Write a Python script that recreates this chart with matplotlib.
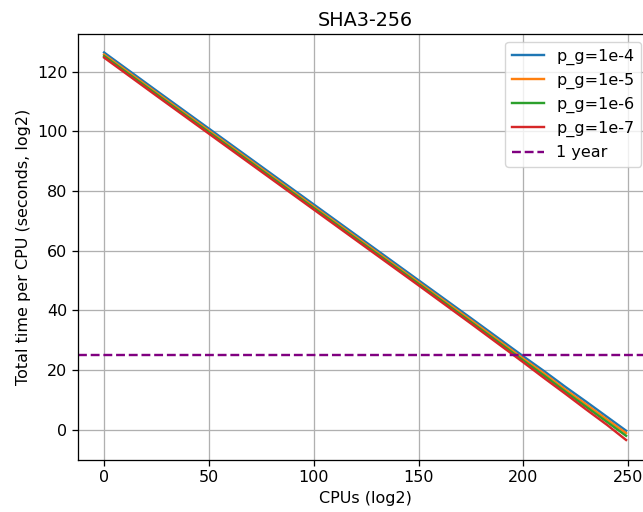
import matplotlib
matplotlib.use("Agg")
import matplotlib.pyplot as plt

# log2 CPU count vs log2 time per CPU for each p_g
cpus = [0, 25, 50, 75, 100, 125, 150, 175, 200, 210, 220, 230, 240, 249]
t_1e4 = [126.4, 113.6, 100.9, 88.2, 75.5, 62.8, 50.1, 37.4, 24.6, 19.6, 14.4, 9.4, 4.3, -0.3]
t_1e5 = [125.7, 112.9, 100.2, 87.5, 74.8, 62.1, 49.4, 36.7, 23.8, 18.8, 13.5, 8.5, 3.4, -1.1]
t_1e6 = [125.2, 112.4, 99.7, 87.0, 74.3, 61.6, 48.9, 36.1, 23.2, 18.1, 12.8, 7.7, 2.6, -2.0]
t_1e7 = [124.7, 111.9, 99.2, 86.5, 73.8, 61.1, 48.4, 35.6, 22.6, 17.3, 12.1, 6.8, 1.6, -3.4]
one_year = 24.91  # log2(seconds in a year)

s = 1.15
plt.rcParams.update({
    "font.size": 10 * s,
    "axes.titlesize": 12 * s,
    "lines.linewidth": 1.5 * s,
    "axes.linewidth": 0.8 * s,
    "grid.linewidth": 0.8 * s,
    "xtick.major.size": 3.5 * s,
    "ytick.major.size": 3.5 * s,
    "xtick.major.width": 0.8 * s,
    "ytick.major.width": 0.8 * s,
})

fig = plt.figure(figsize=(6.43, 5.12), dpi=100)
ax = fig.add_axes([0.1213, 0.1016, 0.893, 0.832])

ax.plot(cpus, t_1e4, label="p_g=1e-4")
ax.plot(cpus, t_1e5, label="p_g=1e-5")
ax.plot(cpus, t_1e6, label="p_g=1e-6")
ax.plot(cpus, t_1e7, label="p_g=1e-7")
ax.axhline(one_year, color="purple", linestyle="--", label="1 year")

ax.set_xlim(-12.45, 261.45)
ax.set_ylim(-10.1, 132.6)
ax.set_title("SHA3-256")
ax.set_xlabel("CPUs (log2)")
ax.set_ylabel("Total time per CPU (seconds, log2)")
ax.grid(True)
ax.legend(loc="upper right", bbox_to_anchor=(0.9969, 0.918),
          bbox_transform=fig.transFigure, borderaxespad=0)

fig.savefig("out.png", dpi=100)
